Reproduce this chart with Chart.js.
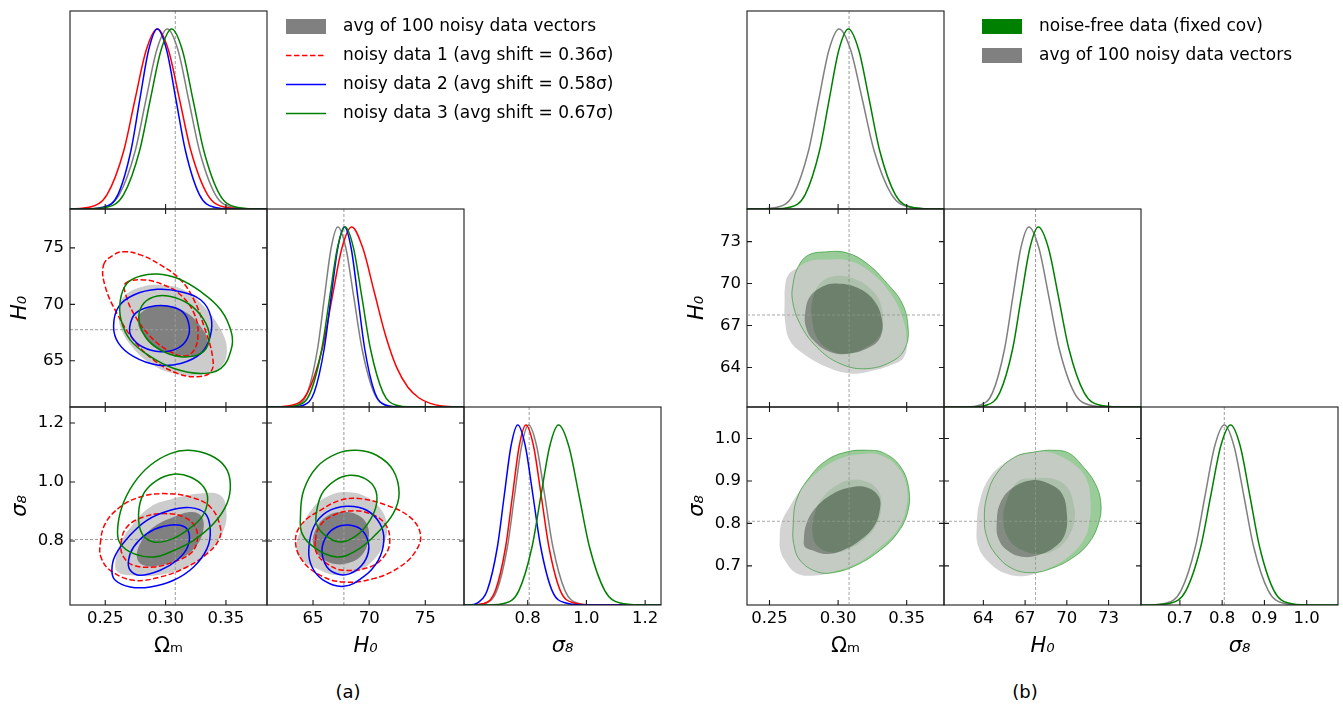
<!DOCTYPE html>
<html>
<head>
    <title>Triangle plots: noisy vs noise-free data</title>
    <script src="https://cdn.jsdelivr.net/npm/chart.js"></script>
    <style>
        body {
            margin: 0;
            padding: 0;
            background: #fff;
            font-family: 'DejaVu Sans', sans-serif;
        }

        #fig {
            position: relative;
            width: 1343px;
            height: 705px;
            overflow: hidden;
        }

        #fig canvas {
            position: absolute;
        }

        .panel-label {
            position: absolute;
            top: 681px;
            font-size: 18px;
            color: #000;
            transform: translateX(-50%);
        }
    </style>
</head>
<body>
    <div id="fig">
        <div class="panel-label" style="left:348px">(a)</div>
        <div class="panel-label" style="left:1025px">(b)</div>
    </div>

    <script>
        // ---- axis limits and ticks ----
        const PDF_RANGE = [0, 1.1];
        const A_OM_RANGE = [0.2208, 0.384];
        const A_H0_RANGE = [60.9, 78.45];
        const A_S8_RANGE = [0.583, 1.254];
        const B_OM_RANGE = [0.2336, 0.3772];
        const B_H0_RANGE = [61.17, 75.33];
        const B_S8_RANGE = [0.608, 1.074];

        const A_OM_TICKS = [0.25, 0.30, 0.35];
        const A_H0_TICKS = [65, 70, 75];
        const A_S8_TICKS = [0.8, 1.0, 1.2];
        const B_OM_TICKS = [0.25, 0.30, 0.35];
        const B_H0_TICKS = [64, 67, 70, 73];
        const B_S8_TICKS = [0.7, 0.8, 0.9, 1.0];

        // fiducial values (dashed lines): Omega_m, H0, sigma8
        const FIDUCIAL = [0.308, 67.75, 0.805];

        // ---- legends ----
        const LEGEND_A = ['avg of 100 noisy data vectors', 'noisy data 1 (avg shift = 0.36σ)',
                          'noisy data 2 (avg shift = 0.58σ)', 'noisy data 3 (avg shift = 0.67σ)'];
        const LEGEND_B = ['noise-free data (fixed cov)', 'avg of 100 noisy data vectors'];

        // ---- panel (a) 1D marginals [x, normalised density] ----
        const A_OM_GRAY = [[0.2208,0],[0.2306,0.0003],[0.2483,0.011],[0.2616,0.08],[0.2749,0.325],[0.2837,0.607],[0.2926,0.882],[0.3014,1],[0.3103,0.882],[0.3191,0.607],[0.3280,0.325],[0.3412,0.08],[0.3545,0.011],[0.3722,0.0003],[0.384,0]];
        const A_OM_RED = [[0.2208,0.0005],[0.2376,0.011],[0.2515,0.08],[0.2654,0.325],[0.2746,0.607],[0.2839,0.882],[0.2931,1],[0.3024,0.882],[0.3116,0.607],[0.3209,0.325],[0.3347,0.08],[0.3486,0.011],[0.3671,0.0003],[0.384,0]];
        const A_OM_BLUE = [[0.2208,0],[0.2351,0.0003],[0.2496,0.011],[0.2605,0.08],[0.2713,0.325],[0.2786,0.607],[0.2859,0.882],[0.2931,1],[0.3009,0.882],[0.3086,0.607],[0.3164,0.325],[0.3280,0.08],[0.3396,0.011],[0.3551,0.0003],[0.384,0]];
        const A_OM_GREEN = [[0.2208,0],[0.2342,0.0003],[0.2519,0.011],[0.2652,0.08],[0.2785,0.325],[0.2873,0.607],[0.2962,0.882],[0.3050,1],[0.3139,0.882],[0.3227,0.607],[0.3316,0.325],[0.3448,0.08],[0.3581,0.011],[0.3758,0.0003],[0.384,0]];

        const A_H0_GRAY = [[60.9,0],[62.41,0.0003],[63.61,0.011],[64.51,0.08],[65.41,0.325],[66.01,0.607],[66.61,0.882],[67.21,1],[67.93,0.882],[68.64,0.607],[69.36,0.325],[70.43,0.08],[71.50,0.011],[72.93,0.0003],[78.45,0]];
        const A_H0_RED = [[60.9,0],[61.45,0.0003],[63.2,0.011],[64.51,0.08],[65.83,0.325],[66.70,0.607],[67.57,0.882],[68.45,1],[69.45,0.88],[70.45,0.64],[71.45,0.40],[72.45,0.22],[73.45,0.11],[74.45,0.05],[75.45,0.02],[76.5,0.006],[78.45,0]];
        const A_H0_BLUE = [[60.9,0],[63.0,0.0003],[64.2,0.011],[65.1,0.08],[66.0,0.325],[66.6,0.607],[67.2,0.882],[67.8,1],[68.4,0.882],[69.0,0.607],[69.6,0.325],[70.5,0.08],[71.4,0.011],[72.6,0.0003],[78.45,0]];
        const A_H0_GREEN = [[60.9,0],[62.34,0.0003],[63.72,0.011],[64.76,0.08],[65.79,0.325],[66.48,0.607],[67.17,0.882],[67.86,1],[68.61,0.882],[69.36,0.607],[70.11,0.325],[71.24,0.08],[72.36,0.011],[73.86,0.0003],[78.45,0]];

        const A_S8_GRAY = [[0.583,0],[0.611,0.0003],[0.659,0.011],[0.695,0.08],[0.731,0.325],[0.755,0.607],[0.779,0.882],[0.803,1],[0.8305,0.882],[0.858,0.607],[0.8855,0.325],[0.927,0.08],[0.968,0.011],[1.023,0.0003],[1.254,0]];
        const A_S8_RED = [[0.583,0],[0.61,0.0003],[0.656,0.011],[0.69,0.08],[0.725,0.325],[0.748,0.607],[0.771,0.882],[0.794,1],[0.82,0.882],[0.846,0.607],[0.872,0.325],[0.911,0.08],[0.958,0.011],[1.02,0.0003],[1.254,0]];
        const A_S8_BLUE = [[0.583,0],[0.60,0.0003],[0.628,0.011],[0.662,0.08],[0.697,0.325],[0.72,0.607],[0.743,0.882],[0.766,1],[0.792,0.882],[0.818,0.607],[0.844,0.325],[0.883,0.08],[0.93,0.011],[0.99,0.0003],[1.254,0]];
        const A_S8_GREEN = [[0.583,0],[0.665,0.0003],[0.725,0.011],[0.77,0.08],[0.815,0.325],[0.845,0.607],[0.875,0.882],[0.905,1],[0.94,0.882],[0.975,0.607],[1.01,0.325],[1.0625,0.08],[1.115,0.011],[1.185,0.0003],[1.254,0]];

        // ---- panel (a) 2D contours (outer 95%, inner 68%) ----
        const A_OH_GRAY_95 = [[0.2653,70.68],[0.2792,71.51],[0.2958,71.72],[0.3153,71.27],[0.3319,69.79],[0.3458,67.72],[0.3508,65.95],[0.3458,64.47],[0.3292,63.73],[0.3069,63.88],[0.2875,64.76],[0.2722,66.24],[0.2625,68.02],[0.2619,69.50]];
        const A_OH_GRAY_68 = [[0.2792,69.20],[0.2903,69.85],[0.3042,69.85],[0.3181,69.20],[0.3292,68.02],[0.3347,66.83],[0.3319,65.80],[0.3208,65.41],[0.3042,65.65],[0.2903,66.24],[0.2806,67.43],[0.2769,68.46]];
        const A_OH_RED_95 = [[0.2486,73.49],[0.2569,74.38],[0.2653,74.67],[0.2792,74.38],[0.2958,73.49],[0.3125,72.16],[0.3236,70.38],[0.3319,68.02],[0.3389,65.36],[0.3375,64.02],[0.3264,63.58],[0.3097,63.88],[0.2903,65.06],[0.2736,66.83],[0.2597,69.20],[0.2500,71.57]];
        const A_OH_RED_68 = [[0.2667,71.86],[0.2819,72.16],[0.2986,71.72],[0.3125,70.83],[0.3236,69.20],[0.3269,67.43],[0.3236,65.95],[0.3153,65.41],[0.3014,65.95],[0.2875,67.13],[0.2750,68.91],[0.2675,70.68]];
        const A_OH_BLUE_95 = [[0.2569,68.02],[0.2611,69.79],[0.2736,70.83],[0.2931,71.33],[0.3125,71.12],[0.3292,70.38],[0.3375,68.91],[0.3369,67.13],[0.3292,65.65],[0.3125,64.76],[0.2931,64.62],[0.2736,65.36],[0.2611,66.54]];
        const A_OH_BLUE_68 = [[0.2703,68.02],[0.2750,69.20],[0.2875,69.79],[0.3014,69.85],[0.3139,69.35],[0.3194,68.17],[0.3181,66.98],[0.3097,66.09],[0.2958,65.80],[0.2806,66.24],[0.2717,67.13]];
        const A_OH_GREEN_95 = [[0.2625,70.38],[0.2681,71.86],[0.2792,72.51],[0.2931,72.69],[0.3097,72.31],[0.3292,71.12],[0.3458,69.50],[0.3547,67.43],[0.3542,65.95],[0.3458,64.32],[0.3292,63.88],[0.3069,64.32],[0.2875,65.36],[0.2708,66.83],[0.2631,68.61]];
        const A_OH_GREEN_68 = [[0.2778,68.76],[0.2819,70.09],[0.2931,70.74],[0.3069,70.62],[0.3222,69.79],[0.3333,68.31],[0.3361,66.83],[0.3292,65.65],[0.3125,65.36],[0.2958,65.95],[0.2833,67.13]];

        const A_OS_GRAY_95 = [[0.2583,0.7232],[0.2624,0.7910],[0.2735,0.8588],[0.2873,0.9153],[0.3066,0.9435],[0.3287,0.9605],[0.3453,0.9548],[0.3503,0.9040],[0.3481,0.8362],[0.3370,0.7684],[0.3177,0.7119],[0.2928,0.6836],[0.2707,0.6836],[0.2602,0.6949]];
        const A_OS_GRAY_68 = [[0.2762,0.7458],[0.2804,0.8023],[0.2901,0.8475],[0.3066,0.8814],[0.3218,0.8983],[0.3301,0.8814],[0.3309,0.8305],[0.3246,0.7797],[0.3122,0.7401],[0.2956,0.7175],[0.2818,0.7175]];
        const A_OS_RED_95 = [[0.2459,0.7910],[0.2500,0.8588],[0.2624,0.9153],[0.2790,0.9492],[0.2983,0.9605],[0.3204,0.9492],[0.3370,0.9153],[0.3453,0.8475],[0.3439,0.8023],[0.3343,0.7571],[0.3177,0.7119],[0.2956,0.6780],[0.2735,0.6667],[0.2541,0.7006],[0.2464,0.7458]];
        const A_OS_RED_68 = [[0.2630,0.7910],[0.2680,0.8475],[0.2818,0.8814],[0.2983,0.8927],[0.3149,0.8814],[0.3246,0.8475],[0.3260,0.7966],[0.3204,0.7571],[0.3066,0.7288],[0.2901,0.7119],[0.2735,0.7175],[0.2652,0.7458]];
        const A_OS_BLUE_95 = [[0.2555,0.7006],[0.2583,0.7514],[0.2693,0.8136],[0.2845,0.8701],[0.3039,0.9040],[0.3204,0.9130],[0.3329,0.8927],[0.3370,0.8362],[0.3343,0.7740],[0.3232,0.7119],[0.3066,0.6667],[0.2873,0.6441],[0.2707,0.6441],[0.2583,0.6667]];
        const A_OS_BLUE_68 = [[0.2693,0.7345],[0.2735,0.7797],[0.2845,0.8249],[0.2983,0.8497],[0.3122,0.8531],[0.3191,0.8305],[0.3182,0.7797],[0.3094,0.7345],[0.2956,0.7006],[0.2790,0.6836],[0.2707,0.7006]];
        const A_OS_GREEN_95 = [[0.2602,0.8362],[0.2638,0.9153],[0.2735,0.9944],[0.2873,1.0565],[0.3039,1.0960],[0.3191,1.1073],[0.3370,1.0904],[0.3494,1.0508],[0.3536,0.9944],[0.3508,0.9266],[0.3398,0.8588],[0.3232,0.8023],[0.3039,0.7627],[0.2901,0.7458],[0.2735,0.7571],[0.2624,0.7910]];
        const A_OS_GREEN_68 = [[0.2776,0.8927],[0.2818,0.9605],[0.2928,1.0057],[0.3066,1.0260],[0.3204,1.0170],[0.3315,0.9831],[0.3348,0.9379],[0.3301,0.8814],[0.3177,0.8362],[0.3039,0.8045],[0.2901,0.7966],[0.2804,0.8249]];

        const A_HS_GRAY_95 = [[63.53,0.7684],[63.88,0.8362],[65.06,0.9153],[66.53,0.9548],[68.01,0.9661],[69.78,0.9492],[71.11,0.9040],[71.61,0.8475],[71.31,0.7910],[70.37,0.7345],[68.89,0.6949],[67.12,0.6836],[65.35,0.7062],[64.03,0.7345]];
        const A_HS_GRAY_68 = [[65.00,0.7910],[65.35,0.8475],[66.39,0.8870],[67.71,0.8983],[69.04,0.8870],[69.84,0.8531],[69.93,0.8023],[69.34,0.7514],[68.16,0.7254],[66.83,0.7232],[65.65,0.7458]];
        const A_HS_RED_95 = [[63.44,0.8023],[64.03,0.8588],[65.65,0.9040],[67.42,0.9379],[69.19,0.9435],[71.55,0.9209],[73.61,0.8814],[74.56,0.8249],[74.20,0.7684],[72.73,0.7119],[70.37,0.6723],[67.71,0.6610],[65.65,0.6836],[64.03,0.7345]];
        const A_HS_RED_68 = [[65.21,0.8023],[65.65,0.8531],[66.83,0.8870],[68.30,0.9017],[70.07,0.8927],[71.40,0.8588],[71.84,0.8023],[71.40,0.7514],[70.07,0.7119],[67.71,0.7006],[66.24,0.7232],[65.35,0.7571]];
        const A_HS_BLUE_95 = [[64.62,0.7684],[65.06,0.8475],[66.24,0.8983],[68.01,0.9175],[69.78,0.9040],[70.96,0.8588],[71.31,0.8023],[70.81,0.7345],[69.48,0.6780],[67.71,0.6463],[65.94,0.6667],[64.91,0.7119]];
        const A_HS_BLUE_68 = [[65.80,0.7684],[66.24,0.8192],[67.12,0.8475],[68.16,0.8542],[69.19,0.8418],[69.84,0.8079],[69.93,0.7627],[69.34,0.7175],[68.30,0.6893],[67.27,0.6870],[66.24,0.7119]];
        const A_HS_GREEN_95 = [[63.88,0.8814],[64.17,0.9718],[65.35,1.0508],[67.12,1.0960],[68.89,1.1073],[70.66,1.0904],[72.14,1.0395],[72.67,0.9605],[72.14,0.8927],[70.66,0.8249],[68.89,0.7684],[67.12,0.7458],[65.06,0.7797],[64.03,0.8249]];
        const A_HS_GREEN_68 = [[65.29,0.8927],[65.80,0.9605],[66.98,1.0057],[68.30,1.0226],[69.63,1.0113],[70.52,0.9774],[70.66,0.9266],[70.07,0.8701],[68.89,0.8192],[67.42,0.7966],[66.09,0.8192],[65.35,0.8531]];

        // ---- panel (b) 1D marginals ----
        const B_OM_GRAY = [[0.2336,0],[0.2415,0.0003],[0.2563,0.011],[0.2674,0.08],[0.2785,0.325],[0.2859,0.607],[0.2933,0.882],[0.3007,1],[0.3092,0.882],[0.3177,0.607],[0.3262,0.325],[0.3390,0.08],[0.3517,0.011],[0.3687,0.0003],[0.3772,0]];
        const B_OM_GREEN = [[0.2336,0],[0.2515,0.0003],[0.2655,0.011],[0.2760,0.08],[0.2865,0.325],[0.2935,0.607],[0.3005,0.882],[0.3075,1],[0.3151,0.882],[0.3227,0.607],[0.3303,0.325],[0.3417,0.08],[0.3531,0.011],[0.3683,0.0003],[0.3772,0]];
        const B_H0_GRAY = [[61.17,0],[62.63,0.0003],[63.79,0.011],[64.66,0.08],[65.53,0.325],[66.11,0.607],[66.69,0.882],[67.27,1],[67.995,0.882],[68.72,0.607],[69.45,0.325],[70.53,0.08],[71.62,0.011],[73.07,0.0003],[75.33,0]];
        const B_H0_GREEN = [[61.17,0],[63.03,0.0003],[64.26,0.011],[65.18,0.08],[66.11,0.325],[66.72,0.607],[67.34,0.882],[67.95,1],[68.68,0.882],[69.41,0.607],[70.14,0.325],[71.24,0.08],[72.33,0.011],[73.79,0.0003],[75.33,0]];
        const B_S8_GRAY = [[0.608,0],[0.623,0.0003],[0.6685,0.011],[0.7026,0.08],[0.7368,0.325],[0.7595,0.607],[0.7823,0.882],[0.805,1],[0.8281,0.882],[0.8512,0.607],[0.8743,0.325],[0.909,0.08],[0.9436,0.011],[0.9898,0.0003],[1.074,0]];
        const B_S8_GREEN = [[0.608,0],[0.632,0.0003],[0.679,0.011],[0.7143,0.08],[0.7495,0.325],[0.773,0.607],[0.7965,0.882],[0.82,1],[0.8428,0.882],[0.8655,0.607],[0.8883,0.325],[0.9224,0.08],[0.9565,0.011],[1.002,0.0003],[1.074,0]];

        // ---- panel (b) 2D contours ----
        const B_OH_GREEN_95 = [[0.2672,70.00],[0.2708,71.19],[0.2782,72.03],[0.2917,72.27],[0.3064,72.20],[0.3211,71.43],[0.3358,70.00],[0.3468,68.57],[0.3510,66.90],[0.3493,65.47],[0.3407,64.51],[0.3211,63.91],[0.3015,64.27],[0.2843,65.47],[0.2721,67.14],[0.2667,68.81]];
        const B_OH_GREEN_68 = [[0.2814,68.81],[0.2868,70.00],[0.2978,70.53],[0.3113,70.36],[0.3235,69.64],[0.3309,68.57],[0.3326,67.14],[0.3297,66.18],[0.3211,65.47],[0.3076,64.99],[0.2941,65.23],[0.2843,66.18],[0.2809,67.61]];
        const B_OH_GRAY_95 = [[0.2613,69.76],[0.2635,70.60],[0.2696,71.07],[0.2794,71.62],[0.2941,71.72],[0.3088,71.62],[0.3235,70.84],[0.3382,69.28],[0.3468,67.61],[0.3500,65.94],[0.3480,64.75],[0.3382,64.15],[0.3211,63.68],[0.3088,63.56],[0.2917,64.03],[0.2745,64.99],[0.2647,65.94],[0.2613,67.37],[0.2610,68.81]];
        const B_OH_GRAY_68 = [[0.2760,67.85],[0.2794,69.05],[0.2892,69.81],[0.2990,70.00],[0.3137,69.71],[0.3260,68.81],[0.3321,67.37],[0.3309,66.18],[0.3235,65.47],[0.3088,64.99],[0.2941,65.11],[0.2819,65.94],[0.2765,66.90]];

        const B_OS_GREEN_95 = [[0.2672,0.7922],[0.2696,0.8548],[0.2794,0.9096],[0.2917,0.9488],[0.3064,0.9684],[0.3211,0.9723],[0.3333,0.9660],[0.3456,0.9331],[0.3517,0.8783],[0.3505,0.8235],[0.3431,0.7765],[0.3309,0.7374],[0.3137,0.7021],[0.2966,0.6841],[0.2843,0.6865],[0.2721,0.7139],[0.2676,0.7530]];
        const B_OS_GREEN_68 = [[0.2814,0.7765],[0.2831,0.8235],[0.2892,0.8626],[0.2990,0.8901],[0.3088,0.9018],[0.3211,0.8979],[0.3297,0.8744],[0.3316,0.8392],[0.3284,0.8000],[0.3211,0.7687],[0.3088,0.7413],[0.2966,0.7311],[0.2855,0.7452]];
        const B_OS_GRAY_95 = [[0.2574,0.7608],[0.2586,0.8000],[0.2647,0.8392],[0.2745,0.8861],[0.2868,0.9253],[0.3015,0.9527],[0.3162,0.9629],[0.3309,0.9605],[0.3431,0.9331],[0.3500,0.8861],[0.3493,0.8313],[0.3431,0.7843],[0.3309,0.7452],[0.3137,0.7060],[0.2966,0.6865],[0.2819,0.6771],[0.2696,0.6825],[0.2610,0.7139],[0.2578,0.7373]];
        const B_OS_GRAY_68 = [[0.2750,0.7608],[0.2770,0.8000],[0.2843,0.8392],[0.2966,0.8705],[0.3088,0.8846],[0.3211,0.8846],[0.3297,0.8626],[0.3304,0.8313],[0.3260,0.7922],[0.3162,0.7608],[0.3039,0.7374],[0.2917,0.7280],[0.2806,0.7374],[0.2757,0.7452]];

        const B_HS_GREEN_95 = [[64.07,0.8078],[64.24,0.8626],[64.96,0.9175],[66.28,0.9566],[67.72,0.9684],[68.92,0.9723],[70.12,0.9660],[71.08,0.9370],[72.04,0.8940],[72.45,0.8470],[72.28,0.8000],[71.56,0.7530],[70.36,0.7178],[68.92,0.6943],[67.48,0.6841],[66.04,0.6943],[64.84,0.7295],[64.24,0.7687]];
        const B_HS_GREEN_68 = [[65.44,0.8078],[65.68,0.8548],[66.52,0.9000],[67.72,0.9057],[68.92,0.9057],[70.00,0.8861],[70.48,0.8470],[70.55,0.8078],[70.12,0.7687],[69.16,0.7374],[67.96,0.7280],[66.76,0.7374],[65.80,0.7648]];
        const B_HS_GRAY_95 = [[63.52,0.7922],[63.76,0.8548],[64.48,0.9096],[65.68,0.9449],[67.00,0.9644],[68.44,0.9684],[69.64,0.9566],[70.72,0.9331],[71.44,0.9018],[71.70,0.8548],[71.61,0.8000],[71.20,0.7608],[70.12,0.7217],[68.68,0.6943],[67.00,0.6763],[65.56,0.6825],[64.36,0.7099],[63.64,0.7452]];
        const B_HS_GRAY_68 = [[64.96,0.8000],[65.20,0.8470],[66.04,0.8822],[67.48,0.9018],[68.68,0.8940],[69.64,0.8705],[70.00,0.8235],[69.88,0.7765],[69.16,0.7452],[67.96,0.7256],[66.76,0.7217],[65.68,0.7374],[65.08,0.7648]];

        // ---- styling ----
        const FONT = "'DejaVu Sans', sans-serif";
        const GRAY = '#808080', RED = '#ff0000', BLUE = '#0000ff', GREEN = '#008000';
        const GRAY_LIGHT = '#cccccc', GREEN_LIGHT = '#99cc99';
        const DASH = [5.5, 2.5];
        const COLS_A = [70, 267, 464];
        const COLS_B = [747, 944, 1141];
        const ROWS = [11, 209, 407];
        const BW = 197, BH = 198;
        const Y_AXIS_W = 70, X_AXIS_H = 62, EDGE = 3;

        Chart.defaults.font.family = FONT;
        Chart.defaults.color = '#000';

        const fig = document.getElementById('fig');

        function addCanvas(left, top, w, h, opacity) {
            const c = document.createElement('canvas');
            c.width = w;
            c.height = h;
            c.style.left = left + 'px';
            c.style.top = top + 'px';
            c.style.width = w + 'px';
            c.style.height = h + 'px';
            if (opacity) c.style.opacity = opacity;
            fig.appendChild(c);
            return c;
        }

        // close contour lines smoothly (same trick the radar chart uses)
        const closedLoops = {
            id: 'closedLoops',
            afterDatasetsUpdate(chart) {
                chart.data.datasets.forEach((ds, i) => {
                    if (!ds.closed) return;
                    const line = chart.getDatasetMeta(i).dataset;
                    if (!line) return;
                    line._loop = true;
                    line._fullLoop = true;
                    delete line._segments;
                    line._path = undefined;
                    line._pointsUpdated = false;
                });
            }
        };

        // matplotlib-like frame with inward ticks
        const frameTicks = {
            id: 'frameTicks',
            afterDraw(chart, args, o) {
                if (!o.on) return;
                const {ctx, chartArea: a, scales} = chart;
                const len = 5;
                ctx.save();
                ctx.strokeStyle = '#1a1a1a';
                ctx.lineWidth = 1.1;
                ctx.strokeRect(a.left, a.top, a.right - a.left, a.bottom - a.top);
                ctx.beginPath();
                o.xt.forEach(v => {
                    const px = scales.x.getPixelForValue(v);
                    ctx.moveTo(px, a.bottom);
                    ctx.lineTo(px, a.bottom - len);
                    if (o.yt) {
                        ctx.moveTo(px, a.top);
                        ctx.lineTo(px, a.top + len);
                    }
                });
                (o.yt || []).forEach(v => {
                    const py = scales.y.getPixelForValue(v);
                    ctx.moveTo(a.left, py);
                    ctx.lineTo(a.left + len, py);
                    ctx.moveTo(a.right, py);
                    ctx.lineTo(a.right - len, py);
                });
                ctx.stroke();
                ctx.restore();
            }
        };

        const pts = arr => arr.map(([x, y]) => ({x, y}));

        function curve(data, color) {
            return {data: pts(data), showLine: true, borderColor: color, borderWidth: 1.5,
                    pointRadius: 0, fill: false, cubicInterpolationMode: 'monotone'};
        }

        function contour(data, color, dash, width) {
            return {data: pts(data), closed: true, showLine: true, borderColor: color,
                    borderWidth: width || 1.5, borderDash: dash || [], pointRadius: 0,
                    fill: false, tension: 0.4};
        }

        function filled(data, color) {
            return {data: pts(data), closed: true, showLine: true, borderWidth: 0,
                    borderColor: color, backgroundColor: color, pointRadius: 0,
                    fill: 'shape', tension: 0.4};
        }

        function vline(v, range) {
            return {data: [{x: v, y: range[0]}, {x: v, y: range[1]}], showLine: true,
                    borderColor: '#999', borderWidth: 1, borderDash: [3, 2], pointRadius: 0, fill: false};
        }

        function hline(v, range) {
            return {data: [{x: range[0], y: v}, {x: range[1], y: v}], showLine: true,
                    borderColor: '#999', borderWidth: 1, borderDash: [3, 2], pointRadius: 0, fill: false};
        }

        function noPad(s) {
            s.paddingTop = 0;
            s.paddingBottom = 0;
            s.paddingLeft = 0;
            s.paddingRight = 0;
        }

        function subplot(o) {
            const [bx, by] = o.box;
            const left = o.showY ? Y_AXIS_W : EDGE;
            const bottom = o.showX ? X_AXIS_H : EDGE;
            const canvas = addCanvas(bx - left, by - EDGE, BW + left + EDGE, BH + EDGE + bottom, o.opacity);
            const labels = !o.overlay;
            const tickFont = {family: FONT, size: 16.5};
            const titleFont = it => ({family: FONT, size: 21, style: it ? 'italic' : 'normal'});
            const yScale = {
                type: 'linear', min: o.yRange[0], max: o.yRange[1],
                border: {display: false}, grid: {display: false, drawTicks: false},
                ticks: {display: labels && !!o.showY, padding: 6, color: '#000', font: tickFont,
                        autoSkip: false, callback: v => v.toFixed(o.yDec || 0)},
                title: {display: labels && !!o.showY, text: o.yTitle || '', color: '#000',
                        font: titleFont(true), padding: {top: 8, bottom: 0}},
                afterFit: s => { s.width = o.showY ? Y_AXIS_W : 0; noPad(s); }
            };
            if (o.yTicks) yScale.afterBuildTicks = s => { s.ticks = o.yTicks.map(v => ({value: v})); };

            // datasets are listed in painting order; Chart.js paints the first one last
            const datasets = o.datasets.slice().reverse();

            return new Chart(canvas, {
                type: 'scatter',
                data: {datasets},
                options: {
                    responsive: false,
                    animation: false,
                    devicePixelRatio: 1,
                    events: [],
                    layout: {padding: {left: o.showY ? 0 : EDGE, top: EDGE, right: EDGE, bottom: o.showX ? 0 : EDGE}},
                    plugins: {
                        legend: {display: false},
                        tooltip: {enabled: false},
                        frameTicks: {on: labels, xt: o.xTicks, yt: o.yTicks || null}
                    },
                    scales: {
                        x: {
                            type: 'linear', min: o.xRange[0], max: o.xRange[1],
                            border: {display: false}, grid: {display: false, drawTicks: false},
                            afterBuildTicks: s => { s.ticks = o.xTicks.map(v => ({value: v})); },
                            ticks: {display: labels && !!o.showX, padding: 4, color: '#000', font: tickFont,
                                    autoSkip: false, maxRotation: 0, callback: v => v.toFixed(o.xDec || 0)},
                            title: {display: labels && !!o.showX, text: o.xTitle || '', color: '#000',
                                    font: titleFont(o.xItalic), padding: {top: 0, bottom: 8}},
                            afterFit: s => { s.height = o.showX ? X_AXIS_H : 0; noPad(s); }
                        },
                        y: yScale
                    }
                },
                plugins: [closedLoops, frameTicks]
            });
        }

        function legendChart(left, top, w, h, texts, styles) {
            const canvas = addCanvas(left, top, w, h);
            return new Chart(canvas, {
                type: 'scatter',
                data: {datasets: []},
                options: {
                    responsive: false,
                    animation: false,
                    devicePixelRatio: 1,
                    events: [],
                    scales: {x: {display: false}, y: {display: false}},
                    plugins: {
                        tooltip: {enabled: false},
                        legend: {
                            display: true,
                            position: 'top',
                            align: 'start',
                            labels: {
                                usePointStyle: true,
                                pointStyleWidth: 40,
                                boxHeight: 15,
                                padding: 12,
                                color: '#000',
                                font: {family: FONT, size: 17},
                                generateLabels: () => texts.map((t, i) => ({
                                    text: '\u2002' + t,
                                    fontColor: '#000',
                                    textAlign: 'left',
                                    hidden: false,
                                    pointStyle: styles[i].patch ? 'rect' : 'line',
                                    fillStyle: styles[i].color,
                                    strokeStyle: styles[i].color,
                                    lineWidth: styles[i].patch ? 0 : 1.5,
                                    lineDash: styles[i].dash || []
                                }))
                            }
                        }
                    }
                }
            });
        }

        // ================= panel (a) =================
        subplot({box: [COLS_A[0], ROWS[0]], xRange: A_OM_RANGE, yRange: PDF_RANGE, xTicks: A_OM_TICKS,
            datasets: [vline(FIDUCIAL[0], PDF_RANGE), curve(A_OM_GRAY, GRAY), curve(A_OM_RED, RED),
                       curve(A_OM_BLUE, BLUE), curve(A_OM_GREEN, GREEN)]});

        subplot({box: [COLS_A[0], ROWS[1]], xRange: A_OM_RANGE, yRange: A_H0_RANGE,
            xTicks: A_OM_TICKS, yTicks: A_H0_TICKS, showY: true, yTitle: 'H₀', yDec: 0,
            datasets: [filled(A_OH_GRAY_95, GRAY_LIGHT), filled(A_OH_GRAY_68, GRAY),
                       vline(FIDUCIAL[0], A_H0_RANGE), hline(FIDUCIAL[1], A_OM_RANGE),
                       contour(A_OH_RED_95, RED, DASH), contour(A_OH_RED_68, RED, DASH),
                       contour(A_OH_BLUE_95, BLUE), contour(A_OH_BLUE_68, BLUE),
                       contour(A_OH_GREEN_95, GREEN), contour(A_OH_GREEN_68, GREEN)]});

        subplot({box: [COLS_A[1], ROWS[1]], xRange: A_H0_RANGE, yRange: PDF_RANGE, xTicks: A_H0_TICKS,
            datasets: [vline(FIDUCIAL[1], PDF_RANGE), curve(A_H0_GRAY, GRAY), curve(A_H0_RED, RED),
                       curve(A_H0_BLUE, BLUE), curve(A_H0_GREEN, GREEN)]});

        subplot({box: [COLS_A[0], ROWS[2]], xRange: A_OM_RANGE, yRange: A_S8_RANGE,
            xTicks: A_OM_TICKS, yTicks: A_S8_TICKS, showX: true, showY: true,
            xTitle: 'Ωₘ', xDec: 2, yTitle: 'σ₈', yDec: 1,
            datasets: [filled(A_OS_GRAY_95, GRAY_LIGHT), filled(A_OS_GRAY_68, GRAY),
                       vline(FIDUCIAL[0], A_S8_RANGE), hline(FIDUCIAL[2], A_OM_RANGE),
                       contour(A_OS_RED_95, RED, DASH), contour(A_OS_RED_68, RED, DASH),
                       contour(A_OS_BLUE_95, BLUE), contour(A_OS_BLUE_68, BLUE),
                       contour(A_OS_GREEN_95, GREEN), contour(A_OS_GREEN_68, GREEN)]});

        subplot({box: [COLS_A[1], ROWS[2]], xRange: A_H0_RANGE, yRange: A_S8_RANGE,
            xTicks: A_H0_TICKS, yTicks: A_S8_TICKS, showX: true, xTitle: 'H₀', xItalic: true, xDec: 0,
            datasets: [filled(A_HS_GRAY_95, GRAY_LIGHT), filled(A_HS_GRAY_68, GRAY),
                       vline(FIDUCIAL[1], A_S8_RANGE), hline(FIDUCIAL[2], A_H0_RANGE),
                       contour(A_HS_RED_95, RED, DASH), contour(A_HS_RED_68, RED, DASH),
                       contour(A_HS_BLUE_95, BLUE), contour(A_HS_BLUE_68, BLUE),
                       contour(A_HS_GREEN_95, GREEN), contour(A_HS_GREEN_68, GREEN)]});

        subplot({box: [COLS_A[2], ROWS[2]], xRange: A_S8_RANGE, yRange: PDF_RANGE,
            xTicks: A_S8_TICKS, showX: true, xTitle: 'σ₈', xItalic: true, xDec: 1,
            datasets: [vline(FIDUCIAL[2], PDF_RANGE), curve(A_S8_GRAY, GRAY), curve(A_S8_RED, RED),
                       curve(A_S8_BLUE, BLUE), curve(A_S8_GREEN, GREEN)]});

        legendChart(274, 6, 400, 300, LEGEND_A, [
            {patch: true, color: GRAY}, {color: RED, dash: DASH}, {color: BLUE}, {color: GREEN}]);

        // ================= panel (b) =================
        subplot({box: [COLS_B[0], ROWS[0]], xRange: B_OM_RANGE, yRange: PDF_RANGE, xTicks: B_OM_TICKS,
            datasets: [vline(FIDUCIAL[0], PDF_RANGE), curve(B_OM_GRAY, GRAY), curve(B_OM_GREEN, GREEN)]});

        // each 2D cell: green fills below, gray fills in a translucent layer on top
        function panelB2D(col, row, xRange, yRange, xTicks, yTicks, green95, green68, gray95, gray68, fx, fy, extra) {
            const base = Object.assign({box: [COLS_B[col], ROWS[row]], xRange, yRange, xTicks, yTicks}, extra);
            subplot(Object.assign({}, base, {
                datasets: [filled(green95, GREEN_LIGHT), filled(green68, GREEN)]}));
            subplot(Object.assign({}, base, {overlay: true, opacity: 0.85,
                datasets: [filled(gray95, GRAY_LIGHT), filled(gray68, GRAY),
                           contour(green95, 'rgba(0,128,0,0.6)', null, 1),
                           vline(fx, yRange), hline(fy, xRange)]}));
        }

        panelB2D(0, 1, B_OM_RANGE, B_H0_RANGE, B_OM_TICKS, B_H0_TICKS,
            B_OH_GREEN_95, B_OH_GREEN_68, B_OH_GRAY_95, B_OH_GRAY_68, FIDUCIAL[0], FIDUCIAL[1],
            {showY: true, yTitle: 'H₀', yDec: 0});

        subplot({box: [COLS_B[1], ROWS[1]], xRange: B_H0_RANGE, yRange: PDF_RANGE, xTicks: B_H0_TICKS,
            datasets: [vline(FIDUCIAL[1], PDF_RANGE), curve(B_H0_GRAY, GRAY), curve(B_H0_GREEN, GREEN)]});

        panelB2D(0, 2, B_OM_RANGE, B_S8_RANGE, B_OM_TICKS, B_S8_TICKS,
            B_OS_GREEN_95, B_OS_GREEN_68, B_OS_GRAY_95, B_OS_GRAY_68, FIDUCIAL[0], FIDUCIAL[2],
            {showX: true, showY: true, xTitle: 'Ωₘ', xDec: 2, yTitle: 'σ₈', yDec: 1});

        panelB2D(1, 2, B_H0_RANGE, B_S8_RANGE, B_H0_TICKS, B_S8_TICKS,
            B_HS_GREEN_95, B_HS_GREEN_68, B_HS_GRAY_95, B_HS_GRAY_68, FIDUCIAL[1], FIDUCIAL[2],
            {showX: true, xTitle: 'H₀', xItalic: true, xDec: 0});

        subplot({box: [COLS_B[2], ROWS[2]], xRange: B_S8_RANGE, yRange: PDF_RANGE,
            xTicks: B_S8_TICKS, showX: true, xTitle: 'σ₈', xItalic: true, xDec: 1,
            datasets: [vline(FIDUCIAL[2], PDF_RANGE), curve(B_S8_GRAY, GRAY), curve(B_S8_GREEN, GREEN)]});

        legendChart(970, 6, 370, 170, LEGEND_B, [{patch: true, color: GREEN}, {patch: true, color: GRAY}]);
    </script>
</body>
</html>
